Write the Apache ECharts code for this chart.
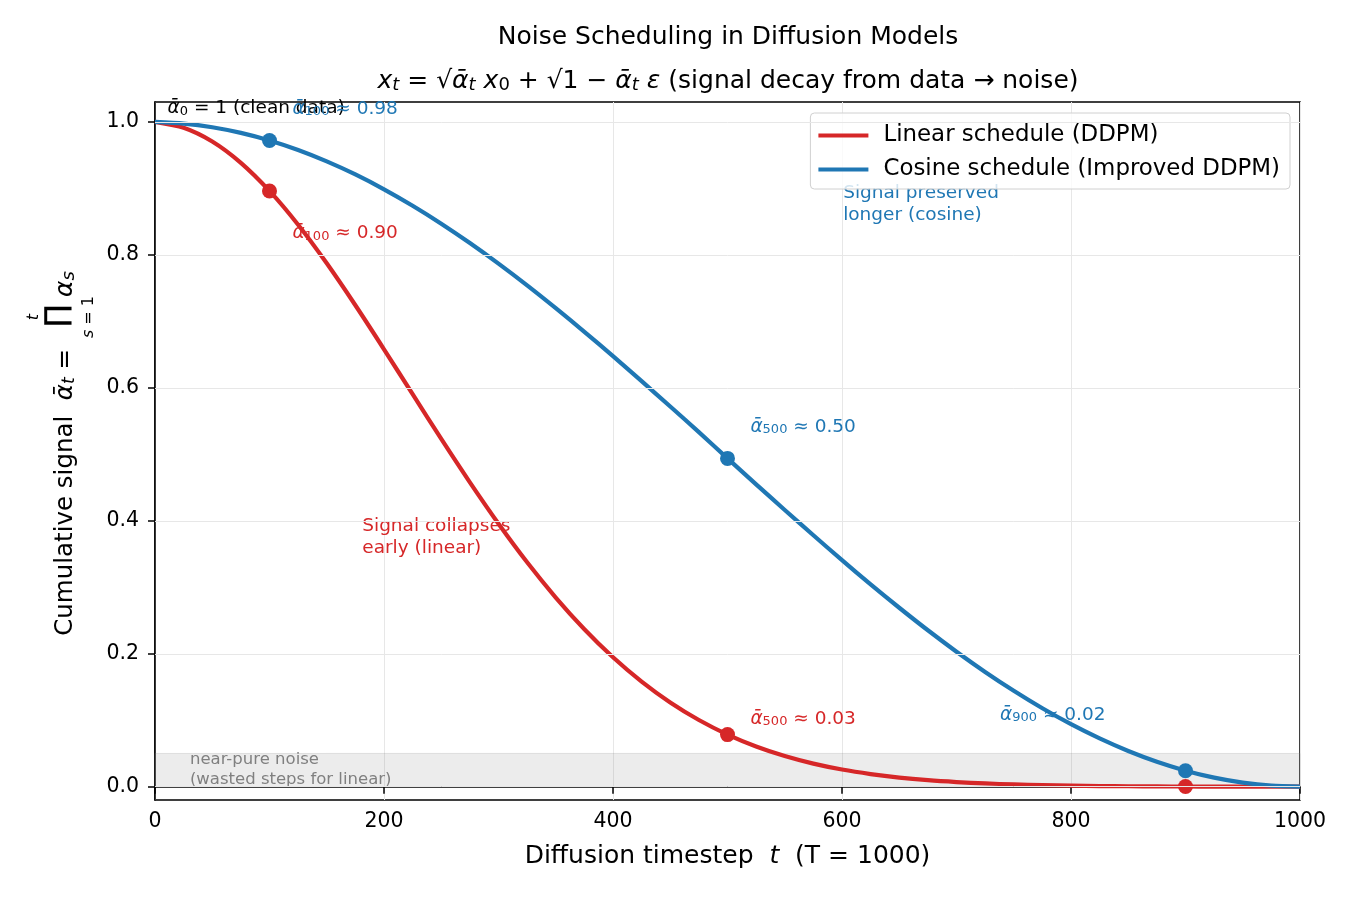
<!DOCTYPE html>
<html>
<head>
<meta charset="utf-8">
<script src="https://cdn.jsdelivr.net/npm/echarts@6/dist/echarts.min.js"></script>
<style>
  html, body { margin: 0; padding: 0; background: #fff; }
  #chart { width: 1350px; height: 900px; }
</style>
</head>
<body>
<div id="chart"></div>
<script>
// timesteps t (T = 1000), sampled every 25 steps
const steps = [0, 25, 50, 75, 100, 125, 150, 175, 200, 225, 250, 275, 300, 325, 350, 375, 400,
  425, 450, 475, 500, 525, 550, 575, 600, 625, 650, 675, 700, 725, 750, 775, 800, 825, 850,
  875, 900, 925, 950, 975, 1000];

// cumulative signal alpha_bar_t
const linearAlphaBar = [1.0, 0.9913, 0.9706, 0.9385, 0.8962, 0.8453, 0.7873, 0.7242, 0.6580,
  0.5904, 0.5231, 0.4578, 0.3956, 0.3376, 0.2846, 0.2369, 0.1947, 0.1581, 0.1267, 0.1003,
  0.0784, 0.0605, 0.0461, 0.0347, 0.0258, 0.0190, 0.0137, 0.0098, 0.0070, 0.0049, 0.0034,
  0.0023, 0.0015, 0.0010, 0.0007, 0.0004, 0.0003, 0.0002, 0.0001, 0.0001, 0.0000];
const cosineAlphaBar = [1.0, 0.9975, 0.9920, 0.9835, 0.9721, 0.9578, 0.9407, 0.9210, 0.8987,
  0.8740, 0.8470, 0.8179, 0.7869, 0.7542, 0.7199, 0.6843, 0.6476, 0.6101, 0.5719, 0.5334,
  0.4939, 0.4548, 0.4163, 0.3782, 0.3408, 0.3044, 0.2692, 0.2353, 0.2031, 0.1727, 0.1443,
  0.1180, 0.0940, 0.0726, 0.0537, 0.0375, 0.0241, 0.0136, 0.0061, 0.0015, 0.0000];

// highlighted timesteps
const markerSteps = [100, 500, 900];

const yTicks = [0, 0.2, 0.4, 0.6, 0.8, 1.0];
const seriesNames = ["Linear schedule (DDPM)", "Cosine schedule (Improved DDPM)"];

const RED = "#d62728";
const BLUE = "#1f77b4";
const FONT = "DejaVu Sans";

const pairs = (vals) => steps.map((t, i) => [t, vals[i]]);
const markers = (vals) => markerSteps.map((t) => [t, vals[steps.indexOf(t)]]);

// rich styles: n normal, i italic, s subscript, si italic subscript
function mathRich(size, color) {
  const sub = Math.round(size * 0.7);
  const base = { fontFamily: FONT, color: color, fill: color, verticalAlign: "bottom" };
  return {
    n: Object.assign({}, base, { fontSize: size, lineHeight: size * 1.2 }),
    i: Object.assign({}, base, { fontSize: size, lineHeight: size * 1.2, fontStyle: "italic" }),
    s: Object.assign({}, base, { fontSize: sub, lineHeight: sub * 0.75 }),
    si: Object.assign({}, base, { fontSize: sub, lineHeight: sub * 0.75, fontStyle: "italic" }),
  };
}

// text notes, anchored at their bottom-left corner in data coordinates
const notes = [
  { text: "{i|ᾱ}{s|0}{n| = 1 (clean data)}", at: [11, 1.006], color: "#000" },
  { text: "{i|ᾱ}{s|100}{n| ≈ 0.98}", at: [120, 1.005], color: BLUE },
  { text: "{i|ᾱ}{s|100}{n| ≈ 0.90}", at: [120, 0.818], color: RED },
  { text: "{i|ᾱ}{s|500}{n| ≈ 0.50}", at: [520, 0.527], color: BLUE },
  { text: "{i|ᾱ}{s|500}{n| ≈ 0.03}", at: [520, 0.088], color: RED },
  { text: "{i|ᾱ}{s|900}{n| ≈ 0.02}", at: [738, 0.094], color: BLUE },
  { text: "{n|Signal preserved}\n{n|longer (cosine)}", at: [601, 0.845], color: BLUE },
  { text: "{n|Signal collapses}\n{n|early (linear)}", at: [181, 0.344], color: RED },
  { text: "{n|near-pure noise}\n{n|(wasted steps for linear)}", at: [30.5, -0.002], color: "#808080", size: 16.5 },
];

const rot = Math.PI / 2;

const chart = echarts.init(document.getElementById("chart"));

const option = {
  backgroundColor: "#fff",
  textStyle: { fontFamily: FONT },
  animation: false,
  graphic: [
    {
      type: "text", x: 728, y: 37, z: 10,
      style: {
        text: "Noise Scheduling in Diffusion Models",
        font: "25px 'DejaVu Sans'", fill: "#000", align: "center", verticalAlign: "middle",
      },
    },
    {
      type: "text", x: 728, y: 79, z: 10,
      style: {
        text: "{i|x}{si|t}{n| = √}{i|ᾱ}{si|t}{n| }{i|x}{s|0}{n| + √1 − }{i|ᾱ}{si|t}{n| }{i|ε}{n| (signal decay from data → noise)}",
        fontFamily: FONT, fontSize: 25, fill: "#000", align: "center", verticalAlign: "middle",
        rich: mathRich(25, "#000"),
      },
    },
    // y axis title, drawn bottom-to-top
    {
      type: "text", x: 63, y: 349, rotation: rot, z: 10,
      style: {
        text: "{n|Cumulative signal  }{i|ᾱ}{si|t}{n| =}",
        fontFamily: FONT, fontSize: 24.5, fill: "#000", align: "right", verticalAlign: "middle",
        rich: mathRich(24.5, "#000"),
      },
    },
    {
      type: "text", x: 58, y: 316, rotation: rot, z: 10,
      style: { text: "∏", font: "30px 'DejaVu Sans'", fill: "#000", align: "center", verticalAlign: "middle" },
    },
    {
      type: "text", x: 34, y: 317, rotation: rot, z: 10,
      style: { text: "t", font: "italic 16px 'DejaVu Sans'", fill: "#000", align: "center", verticalAlign: "middle" },
    },
    {
      type: "text", x: 89, y: 317, rotation: rot, z: 10,
      style: {
        text: "{si|s}{s| = 1}", fontFamily: FONT, fontSize: 16, fill: "#000",
        align: "center", verticalAlign: "middle",
        rich: {
          s: { fontFamily: FONT, fontSize: 16, fill: "#000" },
          si: { fontFamily: FONT, fontSize: 16, fill: "#000", fontStyle: "italic" },
        },
      },
    },
    {
      type: "text", x: 63, y: 297, rotation: rot, z: 10,
      style: {
        text: "{i|α}{si|s}",
        fontFamily: FONT, fontSize: 25, fill: "#000", align: "left", verticalAlign: "middle",
        rich: mathRich(25, "#000"),
      },
    },
  ],
  grid: {
    left: 155, right: 50, top: 102, bottom: 100,
    show: true, borderColor: "#000", borderWidth: 1.5, backgroundColor: "transparent",
  },
  legend: {
    data: seriesNames,
    orient: "vertical",
    right: 60, top: 113,
    icon: "rect", itemWidth: 50, itemHeight: 4, itemGap: 11,
    padding: [11, 10, 8, 8],
    borderColor: "#d0d0d0", borderWidth: 1, borderRadius: 4,
    backgroundColor: "rgba(255,255,255,0.8)",
    textStyle: { fontFamily: FONT, fontSize: 22.9, color: "#000", padding: [0, 0, 0, 10] },
  },
  xAxis: {
    type: "value", min: 0, max: 1000, interval: 200,
    name: "{n|Diffusion timestep  }{i|t}{n|  (T = 1000)}",
    nameLocation: "middle", nameGap: 44,
    nameTextStyle: {
      rich: {
        n: { fontFamily: FONT, fontSize: 25, color: "#000" },
        i: { fontFamily: FONT, fontSize: 25, color: "#000", fontStyle: "italic" },
      },
    },
    axisLine: { show: true, lineStyle: { color: "#000", width: 1.5 } },
    axisTick: { show: true, inside: false, length: 7, lineStyle: { color: "#000", width: 1.5 } },
    axisLabel: { fontFamily: FONT, fontSize: 20.5, color: "#000", margin: 11, formatter: (v) => String(v) },
    splitLine: { show: true, lineStyle: { color: "#e7e7e7", width: 1 } },
  },
  yAxis: {
    type: "value", min: -0.02, max: 1.03,
    axisLine: { show: true, lineStyle: { color: "#000", width: 1.5 } },
    axisTick: { show: true, inside: false, length: 7, customValues: yTicks, lineStyle: { color: "#000", width: 1.5 } },
    axisLabel: {
      fontFamily: FONT, fontSize: 20.5, color: "#000", margin: 16,
      customValues: yTicks,
      formatter: (v) => v.toFixed(1),
    },
    splitLine: { show: false },
  },
  series: [
    {
      // near-pure-noise band
      type: "line", data: [], silent: true, z: 0,
      markArea: {
        silent: true,
        itemStyle: { color: "rgba(128,128,128,0.15)", borderColor: "rgba(128,128,128,0.2)", borderWidth: 1 },
        data: [[{ yAxis: 0 }, { yAxis: 0.05 }]],
      },
    },
    {
      // horizontal grid lines
      type: "line", data: [], silent: true, z: 1,
      markLine: {
        silent: true, symbol: "none", label: { show: false },
        lineStyle: { color: "#e7e7e7", type: "solid", width: 1 },
        data: yTicks.map((v) => ({ yAxis: v })),
      },
    },
    {
      // text notes
      type: "scatter", symbolSize: 0, silent: true, z: 2,
      itemStyle: { opacity: 1 },
      data: notes.map((n) => ({
        value: n.at,
        label: {
          show: true, formatter: n.text, position: [0, 0],
          align: "left", verticalAlign: "bottom", opacity: 1,
          fontFamily: FONT, fontSize: n.size || 18.5, color: n.color,
          rich: mathRich(n.size || 18.5, n.color),
        },
      })),
    },
    {
      name: seriesNames[0], type: "line", data: pairs(linearAlphaBar),
      smooth: 0.25, showSymbol: false, z: 3,
      lineStyle: { color: RED, width: 4.2, join: "round" }, itemStyle: { color: RED },
    },
    {
      name: seriesNames[1], type: "line", data: pairs(cosineAlphaBar),
      smooth: 0.25, showSymbol: false, z: 3,
      lineStyle: { color: BLUE, width: 4.2, join: "round" }, itemStyle: { color: BLUE },
    },
    {
      type: "scatter", data: markers(linearAlphaBar), symbolSize: 15, z: 4,
      itemStyle: { color: RED, opacity: 1 },
    },
    {
      type: "scatter", data: markers(cosineAlphaBar), symbolSize: 15, z: 4,
      itemStyle: { color: BLUE, opacity: 1 },
    },
  ],
};

chart.setOption(option);
</script>
</body>
</html>
